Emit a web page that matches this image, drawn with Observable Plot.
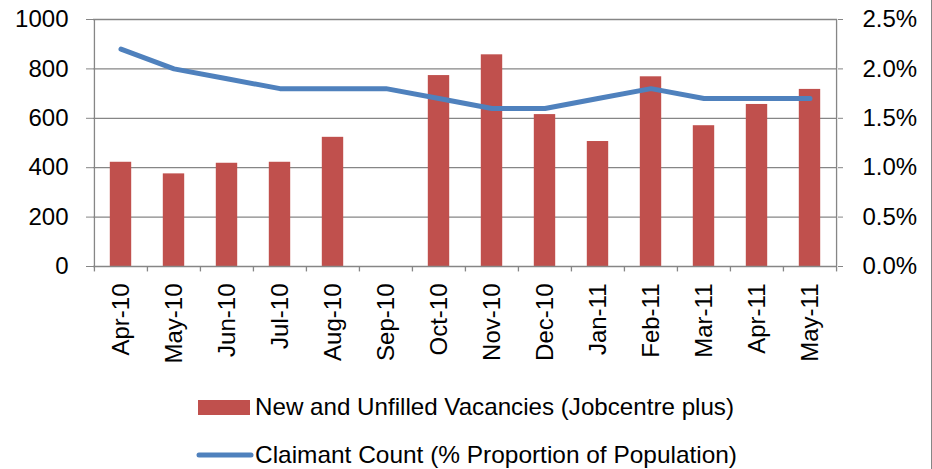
<!DOCTYPE html>
<html>
<head>
<meta charset="utf-8">
<script src="https://cdn.jsdelivr.net/npm/d3@7"></script>
<script src="https://cdn.jsdelivr.net/npm/@observablehq/plot@0.6"></script>
<style>
  html, body { margin: 0; padding: 0; background: #fff; }
  #wrap { position: relative; width: 932px; height: 469px; overflow: hidden; }
  #border { position: absolute; right: 0; top: 0; width: 1px; height: 469px; background: #868686; }
  svg { display: block; }
</style>
</head>
<body>
<div id="wrap"><div id="chart"></div><div id="legend"></div><div id="border"></div></div>
<script>
const months = ["Apr-10","May-10","Jun-10","Jul-10","Aug-10","Sep-10","Oct-10","Nov-10","Dec-10","Jan-11","Feb-11","Mar-11","Apr-11","May-11"];
const vacancies = [422, 375, 418, 422, 523, null, 773, 857, 615, 506, 768, 570, 656, 717];
const claimantPct = [2.2, 2.0, 1.9, 1.8, 1.8, 1.8, 1.7, 1.6, 1.6, 1.7, 1.8, 1.7, 1.7, 1.7];
const leftTicks = [0, 200, 400, 600, 800, 1000];
const rightTicks = [0, 0.5, 1.0, 1.5, 2.0, 2.5];
const seriesNames = ["New and Unfilled Vacancies (Jobcentre plus)", "Claimant Count (% Proportion of Population)"];

const barColor = "#C0504D";
const lineColor = "#4F81BD";
const gridColor = "#868686";
const font = "Liberation Sans, Arial, sans-serif";

const W = 932, H = 375;
const mL = 93, mR = 95, mT = 19, mB = 109;
const ratio = 1000 / 2.5; // right axis maps 2.5% to 1000
const bw = (W - mL - mR) / months.length;

const rows = months.map((m, i) => ({month: m, vac: vacancies[i], pct: claimantPct[i], scaled: claimantPct[i] * ratio}));
const bounds = months.map((m, i) => ({month: m, side: -1})).concat([{month: months[months.length - 1], side: 1}]);

const chart = Plot.plot({
  width: W, height: H,
  marginLeft: mL, marginRight: mR, marginTop: mT, marginBottom: mB,
  style: {fontFamily: font, fontSize: "24px", color: "#000", background: "#fff"},
  x: {type: "band", domain: months, padding: 0},
  y: {domain: [0, 1000]},
  marks: [
    Plot.ruleY(leftTicks.filter(d => d > 0), {stroke: gridColor, strokeWidth: 1.3, strokeOpacity: 1}),
    Plot.ruleX([0], {x: () => months[0], dx: -bw / 2, y1: 0, y2: 1000, stroke: gridColor, strokeWidth: 1.3}),
    Plot.ruleX([0], {x: () => months[months.length - 1], dx: bw / 2, y1: 0, y2: 1000, stroke: gridColor, strokeWidth: 1.3}),
    Plot.barY(rows.filter(d => d.vac != null), {x: "month", y: "vac", fill: barColor, insetLeft: 15.8, insetRight: 15.8}),
    Plot.ruleY([0], {stroke: gridColor, strokeWidth: 1.3}),
    Plot.ruleX(bounds.filter(d => d.side < 0), {x: "month", dx: -bw / 2, y1: 0, y2: -22, stroke: gridColor, strokeWidth: 1.3}),
    Plot.ruleX(bounds.filter(d => d.side > 0), {x: "month", dx: bw / 2, y1: 0, y2: -22, stroke: gridColor, strokeWidth: 1.3}),
    Plot.lineY(rows, {x: "month", y: "scaled", stroke: lineColor, strokeWidth: 5, strokeLinecap: "round", strokeLinejoin: "round"}),
    Plot.axisY({anchor: "left", ticks: leftTicks, tickFormat: d => String(d), tickSize: 7, tickPadding: 18, stroke: gridColor, label: null, fill: "#000"}),
    Plot.axisY({anchor: "right", ticks: rightTicks.map(d => d * ratio), tickFormat: d => (d / ratio).toFixed(1) + "%", tickSize: 5, tickPadding: 20, stroke: gridColor, label: null, fill: "#000"}),
    Plot.axisX({anchor: "bottom", tickSize: 0, tickRotate: -90, tickPadding: 17, label: null, fill: "#000"})
  ]
});
chart.querySelectorAll("[aria-label='y-axis tick']").forEach(g => g.setAttribute("stroke-opacity", 1));
document.getElementById("chart").appendChild(chart);

// Legend below the chart
const leg = d3.select("#legend").append("svg").attr("width", W).attr("height", 469 - H)
  .style("font-family", font).style("font-size", "24px");
leg.append("rect").attr("x", 198).attr("y", 25).attr("width", 52).attr("height", 15).attr("fill", barColor);
leg.append("text").attr("x", 255).attr("y", 40).attr("textLength", 479).attr("lengthAdjust", "spacingAndGlyphs").text(seriesNames[0]);
leg.append("line").attr("x1", 199).attr("x2", 251).attr("y1", 80).attr("y2", 80)
  .attr("stroke", lineColor).attr("stroke-width", 5).attr("stroke-linecap", "round");
leg.append("text").attr("x", 255).attr("y", 88).attr("textLength", 482).attr("lengthAdjust", "spacingAndGlyphs").text(seriesNames[1]);
</script>
</body>
</html>
